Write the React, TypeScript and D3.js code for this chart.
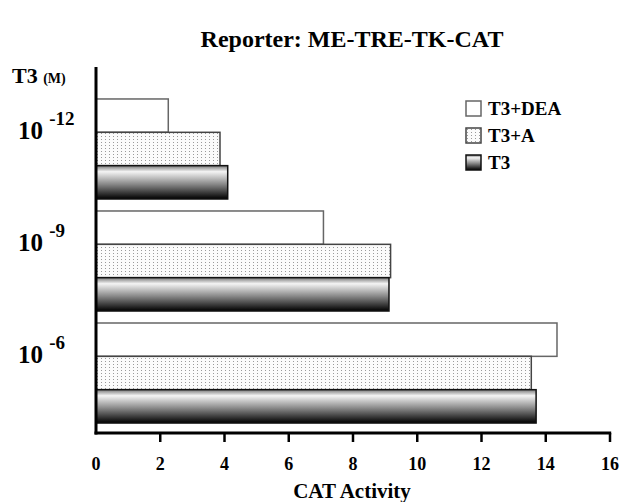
import React, { useRef, useEffect } from 'react'
import * as d3 from 'd3'

const groups = ['-12', '-9', '-6']
const series = ['T3+DEA', 'T3+A', 'T3']
const deaValues = [2.25, 7.08, 14.35]
const aValues = [3.86, 9.17, 13.55]
const t3Values = [4.1, 9.12, 13.7]
const xTicks = [0, 2, 4, 6, 8, 10, 12, 14, 16]

const FONT = '"Liberation Serif", "Times New Roman", serif'

export default function App() {
  const ref = useRef<SVGSVGElement>(null)

  useEffect(() => {
    const svg = d3.select(ref.current)
    svg.selectAll('*').remove()

    const width = 626
    const height = 502

    const x = d3.scaleLinear().domain([0, 16]).range([96, 610])
    const y = d3.scaleBand<string>().domain(groups).range([89, 433])
      .paddingInner(0.107).paddingOuter(0.089)
    const inner = d3.scaleBand<string>().domain(series).range([0, y.bandwidth()])

    const defs = svg.append('defs')
    const pat = defs.append('pattern')
      .attr('id', 'dots')
      .attr('width', 4)
      .attr('height', 3)
      .attr('patternUnits', 'userSpaceOnUse')
    pat.append('rect').attr('width', 4).attr('height', 3).attr('fill', '#fbfbfb')
    pat.append('rect').attr('x', 1).attr('y', 1).attr('width', 1).attr('height', 1).attr('fill', '#9a9a9a')

    const grad = defs.append('linearGradient')
      .attr('id', 'shade')
      .attr('x1', 0).attr('y1', 0).attr('x2', 0).attr('y2', 1)
    grad.append('stop').attr('offset', '0%').attr('stop-color', '#777')
    grad.append('stop').attr('offset', '18%').attr('stop-color', '#f4f4f4')
    grad.append('stop').attr('offset', '55%').attr('stop-color', '#8a8a8a')
    grad.append('stop').attr('offset', '100%').attr('stop-color', '#000')

    const styles: Record<string, { fill: string; stroke: string }> = {
      'T3+DEA': { fill: '#fff', stroke: '#666' },
      'T3+A': { fill: 'url(#dots)', stroke: '#444' },
      'T3': { fill: 'url(#shade)', stroke: '#111' },
    }
    const valueMap: Record<string, number[]> = {
      'T3+DEA': deaValues,
      'T3+A': aValues,
      'T3': t3Values,
    }

    // bars
    groups.forEach((g, gi) => {
      series.forEach(s => {
        const v = valueMap[s][gi]
        svg.append('rect')
          .attr('x', x(0))
          .attr('y', (y(g) as number) + (inner(s) as number))
          .attr('width', x(v) - x(0))
          .attr('height', inner.bandwidth())
          .attr('fill', styles[s].fill)
          .attr('stroke', styles[s].stroke)
          .attr('stroke-width', 1.5)
      })
    })

    // axes
    svg.append('line')
      .attr('x1', x(0)).attr('x2', x(0))
      .attr('y1', 67).attr('y2', 434.5)
      .attr('stroke', '#000').attr('stroke-width', 3)
    svg.append('line')
      .attr('x1', x(0) - 1.5).attr('x2', x(16) + 1.2)
      .attr('y1', 433).attr('y2', 433)
      .attr('stroke', '#000').attr('stroke-width', 3)

    svg.selectAll('.tick')
      .data(xTicks.slice(1))
      .enter()
      .append('line')
      .attr('x1', d => x(d)).attr('x2', d => x(d))
      .attr('y1', 433).attr('y2', 442)
      .attr('stroke', '#000').attr('stroke-width', 2.5)

    svg.selectAll('.ticklabel')
      .data(xTicks)
      .enter()
      .append('text')
      .attr('x', d => x(d))
      .attr('y', 470)
      .attr('text-anchor', 'middle')
      .attr('font-family', FONT)
      .attr('font-weight', 'bold')
      .attr('font-size', 18)
      .text(d => d)

    svg.append('text')
      .attr('x', 352).attr('y', 498)
      .attr('text-anchor', 'middle')
      .attr('font-family', FONT)
      .attr('font-weight', 'bold')
      .attr('font-size', 21)
      .text('CAT Activity')

    svg.append('text')
      .attr('x', 352).attr('y', 47)
      .attr('text-anchor', 'middle')
      .attr('font-family', FONT)
      .attr('font-weight', 'bold')
      .attr('font-size', 24)
      .text('Reporter: ME-TRE-TK-CAT')

    // y label header
    const hdr = svg.append('text')
      .attr('x', 12).attr('y', 83)
      .attr('font-family', FONT)
      .attr('font-weight', 'bold')
      .attr('font-size', 22)
    hdr.append('tspan').text('T3 ')
    hdr.append('tspan').attr('font-size', 14).text('(M)')

    // group labels
    groups.forEach(g => {
      const cy = (y(g) as number) + y.bandwidth() / 2
      const t = svg.append('text')
        .attr('x', 18).attr('y', cy - 10)
        .attr('font-family', FONT)
        .attr('font-weight', 'bold')
        .attr('font-size', 25)
      t.append('tspan').text('10 ')
      t.append('tspan').attr('font-size', 19).attr('dy', -14).text(g)
    })

    // legend
    const legend = svg.append('g').attr('transform', 'translate(466,101)')
    series.forEach((s, i) => {
      const row = legend.append('g').attr('transform', `translate(0,${i * 27})`)
      row.append('rect')
        .attr('width', 15).attr('height', 15)
        .attr('fill', styles[s].fill)
        .attr('stroke', styles[s].stroke)
        .attr('stroke-width', 1.5)
      row.append('text')
        .attr('x', 22).attr('y', 14)
        .attr('font-family', FONT)
        .attr('font-weight', 'bold')
        .attr('font-size', 19)
        .text(s)
    })

    svg.attr('width', width).attr('height', height)
  }, [])

  return (
    <svg ref={ref} width={626} height={502}
      style={{ position: 'absolute', left: 0, top: 0, background: '#fff' }} />
  )
}
